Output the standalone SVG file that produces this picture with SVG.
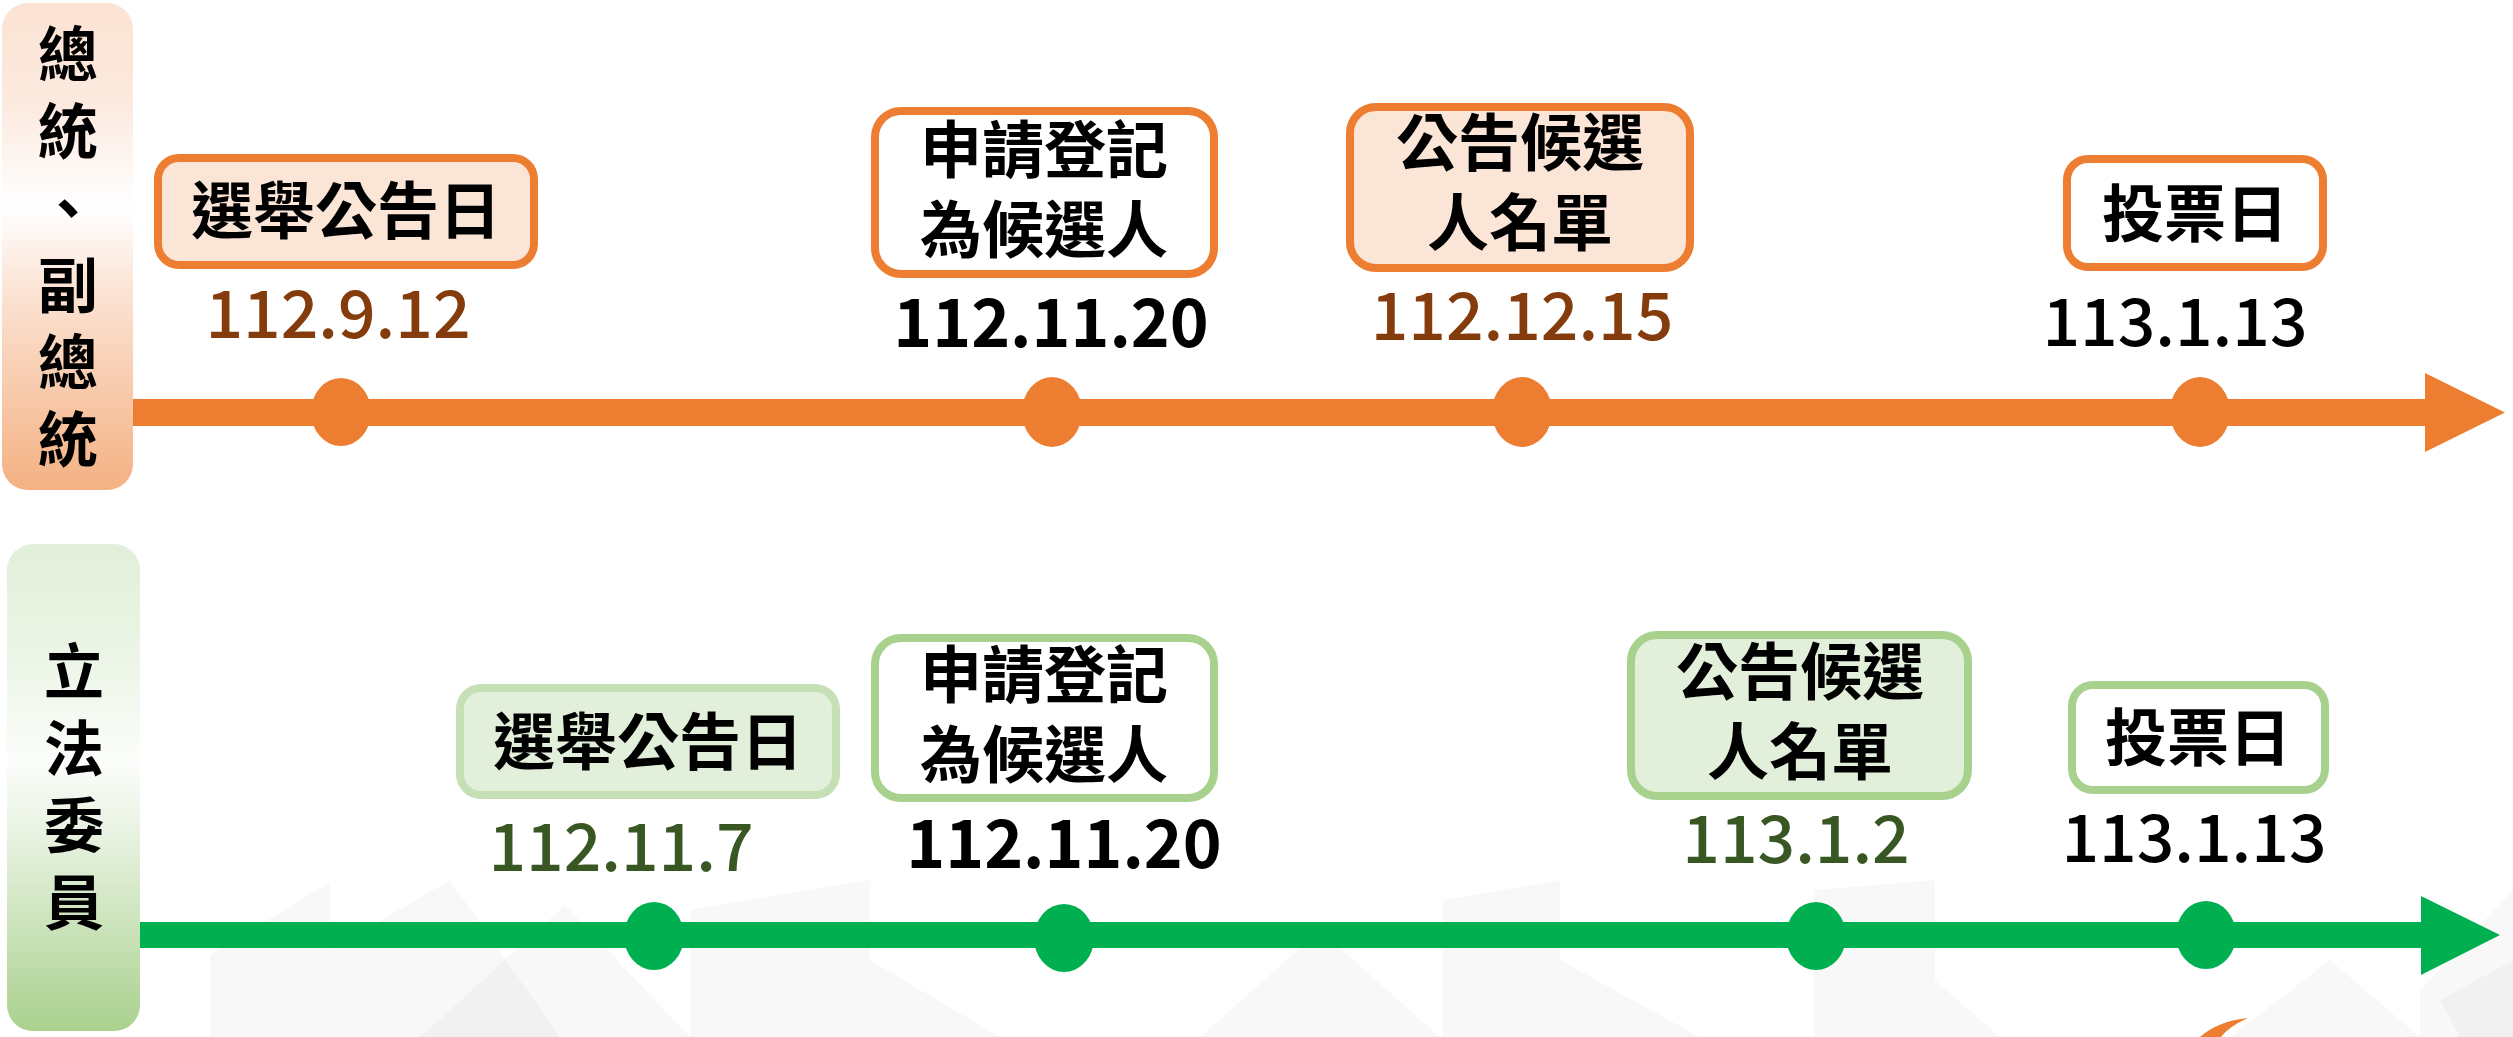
<svg xmlns="http://www.w3.org/2000/svg" width="2513" height="1037" viewBox="0 0 2513 1037">
<defs>
<linearGradient id="gOrange" x1="0" y1="0" x2="0" y2="1">
<stop offset="0" stop-color="#FBE3D3"/>
<stop offset="0.2" stop-color="#FCE9DE"/>
<stop offset="0.42" stop-color="#FFFFFF"/>
<stop offset="0.6" stop-color="#FBE2D2"/>
<stop offset="1" stop-color="#F4B183"/>
</linearGradient>
<linearGradient id="gGreen" x1="0" y1="0" x2="0" y2="1">
<stop offset="0" stop-color="#E2EFDA"/>
<stop offset="0.2" stop-color="#EAF4E4"/>
<stop offset="0.45" stop-color="#FBFDFA"/>
<stop offset="0.62" stop-color="#E4F0DC"/>
<stop offset="1" stop-color="#AAD18E"/>
</linearGradient>
<style>
.cjk{font-family:"Noto Sans CJK TC","Noto Sans CJK SC",sans-serif;font-weight:700;font-size:62px;fill:#000;text-anchor:middle}
.side{font-family:"Noto Sans CJK TC","Noto Sans CJK SC",sans-serif;font-weight:700;font-size:60px;fill:#000;text-anchor:start;writing-mode:vertical-rl;letter-spacing:17px}
.date{font-family:"Noto Sans CJK TC","Noto Sans CJK SC",sans-serif;font-weight:500;font-size:66px;text-anchor:middle}
.bold{font-weight:700}
.brown{fill:#843C0C}
.dgreen{fill:#385723}
.blk{fill:#000}
.ob{stroke:#ED7D31;stroke-width:8}
.gb{stroke:#A9D18E;stroke-width:8}
.gbl{stroke:#C5E0B4;stroke-width:8}
.peach{fill:#FBE5D6}
.lgreen{fill:#E2EFDA}
.white{fill:#FFFFFF}
.odot{fill:#ED7D31}
.gdot{fill:#00B050}
.bg{fill:#000;opacity:0.028}
</style>
</defs>
<rect x="0" y="0" width="2513" height="1037" fill="#FFFFFF"/>
<g id="background">
<polygon class="bg" points="210,955 330,882 330,1037 210,1037"/>
<polygon class="bg" points="330,950 450,880 560,1037 330,1037"/>
<polygon class="bg" points="450,1010 565,905 690,1037 420,1037"/>
<polygon class="bg" points="690,910 870,880 870,1037 690,1037"/>
<polygon class="bg" points="870,960 1000,1037 870,1037"/>
<polygon class="bg" points="1200,1037 1320,930 1440,1037"/>
<polygon class="bg" points="1443,900 1560,880 1560,1037 1443,1037"/>
<polygon class="bg" points="1560,960 1700,1037 1560,1037"/>
<polygon class="bg" points="1814,1037 1814,890 1935,880 1935,1037"/>
<polygon class="bg" points="1935,980 2000,1037 1935,1037"/>
<polygon class="bg" points="2230,1037 2330,960 2420,1037"/>
<polygon class="bg" points="2420,1037 2420,990 2513,890 2513,1037"/>
<polygon class="bg" points="2440,1000 2513,960 2513,1037 2460,1037"/>
<path d="M2200,1037 Q2218,1021 2248,1018 Q2228,1027 2221,1037 Z" fill="#ED7D31"/>
</g>
<g id="connectors">
<rect x="133" y="399" width="2293" height="27" fill="#ED7D31"/>
<polygon points="2425,373 2505,412.5 2425,452" fill="#ED7D31"/>
<rect x="139" y="922" width="2283" height="26" fill="#00B050"/>
<polygon points="2421,896 2500,935 2421,975" fill="#00B050"/>
</g>
<g id="label-president">
<rect x="2" y="3" width="131" height="487" rx="26" fill="url(#gOrange)"/>
<text class="side" x="68" y="24">總統、副總統</text>
</g>
<g id="label-legislator">
<rect x="7" y="544" width="133" height="487" rx="26" fill="url(#gGreen)"/>
<text class="side" x="74" y="641">立法委員</text>
</g>
<g id="p-announce">
<rect x="158" y="158" width="376" height="107" rx="21" class="peach ob"/>
<text class="cjk" x="346" y="234">選舉公告日</text>
<ellipse cx="341" cy="412" rx="30" ry="34" class="odot"/>
<text class="date brown" x="338" y="338">112.9.12</text>
</g>
<g id="p-register">
<rect x="875" y="111" width="339" height="163" rx="26" class="white ob"/>
<text class="cjk" x="1044" y="173">申請登記<tspan x="1044" dy="80">為候選人</tspan></text>
<ellipse cx="1052" cy="412" rx="30" ry="35" class="odot"/>
<text class="date blk bold" x="1051" y="347">112.11.20</text>
</g>
<g id="p-list">
<rect x="1350" y="107" width="340" height="161" rx="26" class="peach ob"/>
<text class="cjk" x="1520" y="166">公告候選<tspan x="1520" dy="80">人名單</tspan></text>
<ellipse cx="1522" cy="412" rx="30" ry="35" class="odot"/>
<text class="date brown" x="1522" y="340">112.12.15</text>
</g>
<g id="p-vote">
<rect x="2067" y="159" width="256" height="108" rx="21" class="white ob"/>
<text class="cjk" x="2195" y="237">投票日</text>
<ellipse cx="2200" cy="412" rx="30" ry="35" class="odot"/>
<text class="date blk" x="2175" y="346">113.1.13</text>
</g>
<g id="l-announce">
<rect x="460" y="688" width="376" height="107" rx="21" class="lgreen gbl"/>
<text class="cjk" x="648" y="765">選舉公告日</text>
<ellipse cx="654" cy="936" rx="30" ry="34" class="gdot"/>
<text class="date dgreen" x="621" y="871">112.11.7</text>
</g>
<g id="l-register">
<rect x="875" y="638" width="339" height="160" rx="26" class="white gb"/>
<text class="cjk" x="1044" y="698">申請登記<tspan x="1044" dy="80">為候選人</tspan></text>
<ellipse cx="1064" cy="938" rx="30" ry="34" class="gdot"/>
<text class="date blk bold" x="1064" y="868">112.11.20</text>
</g>
<g id="l-list">
<rect x="1631" y="635" width="337" height="161" rx="26" class="lgreen gb"/>
<text class="cjk" x="1800" y="695">公告候選<tspan x="1800" dy="80">人名單</tspan></text>
<ellipse cx="1816" cy="936" rx="30" ry="34" class="gdot"/>
<text class="date dgreen" x="1796" y="863">113.1.2</text>
</g>
<g id="l-vote">
<rect x="2072" y="685" width="253" height="105" rx="21" class="white gb"/>
<text class="cjk" x="2198" y="761">投票日</text>
<ellipse cx="2206" cy="935" rx="30" ry="34" class="gdot"/>
<text class="date blk" x="2194" y="862">113.1.13</text>
</g>
</svg>
